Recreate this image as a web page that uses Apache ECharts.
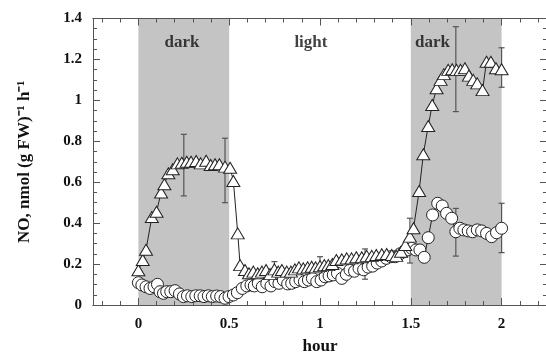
<!DOCTYPE html>
<html>
<head>
<meta charset="utf-8">
<script src="https://cdn.jsdelivr.net/npm/echarts@6/dist/echarts.min.js"></script>
<style>
html,body{margin:0;padding:0;background:#fff;}
#chart{width:546px;height:355px;}
</style>
</head>
<body>
<div id="chart"></div>
<script>
// ---- data ----
var triX = [0.0,0.024,0.042,0.074,0.10,0.125,0.143,0.165,0.189,0.215,0.239,0.266,0.29,0.318,0.343,0.373,0.398,0.422,0.446,0.477,0.505,0.523,0.547,0.56,0.587,0.609,0.633,0.657,0.68,0.703,0.725,0.749,0.77,0.79,0.817,0.84,0.862,0.884,0.908,0.932,0.954,0.976,1.0,1.024,1.046,1.068,1.09,1.12,1.147,1.174,1.20,1.23,1.257,1.285,1.31,1.34,1.367,1.395,1.42,1.446,1.47,1.495,1.515,1.546,1.569,1.596,1.618,1.642,1.664,1.682,1.706,1.728,1.752,1.774,1.798,1.82,1.844,1.866,1.895,1.917,1.941,1.969,2.0];
var triY = [0.17,0.22,0.27,0.43,0.456,0.55,0.59,0.644,0.663,0.692,0.695,0.70,0.70,0.704,0.692,0.705,0.684,0.688,0.688,0.676,0.671,0.606,0.35,0.195,0.171,0.155,0.163,0.155,0.163,0.171,0.151,0.174,0.163,0.171,0.163,0.163,0.174,0.184,0.179,0.184,0.187,0.184,0.19,0.195,0.195,0.20,0.22,0.223,0.228,0.228,0.233,0.233,0.24,0.24,0.244,0.248,0.249,0.244,0.24,0.26,0.293,0.334,0.375,0.557,0.737,0.875,0.977,1.059,1.10,1.128,1.149,1.152,1.149,1.149,1.157,1.121,1.10,1.083,1.05,1.189,1.189,1.157,1.152];

var cirX = [0.0,0.019,0.042,0.064,0.086,0.105,0.119,0.138,0.156,0.178,0.202,0.226,0.248,0.27,0.294,0.316,0.34,0.361,0.385,0.407,0.431,0.453,0.477,0.499,0.523,0.545,0.572,0.597,0.62,0.638,0.66,0.682,0.707,0.73,0.752,0.774,0.798,0.822,0.844,0.866,0.89,0.914,0.936,0.958,0.982,1.006,1.028,1.05,1.073,1.096,1.12,1.145,1.165,1.19,1.215,1.24,1.265,1.29,1.315,1.34,1.365,1.39,1.415,1.44,1.462,1.484,1.505,1.528,1.55,1.574,1.596,1.62,1.648,1.673,1.697,1.725,1.748,1.77,1.792,1.816,1.84,1.866,1.89,1.917,1.945,1.972,2.0];
var cirY = [0.109,0.098,0.089,0.081,0.089,0.101,0.065,0.057,0.065,0.065,0.07,0.054,0.041,0.045,0.041,0.045,0.045,0.041,0.045,0.041,0.044,0.041,0.033,0.041,0.049,0.06,0.081,0.093,0.098,0.093,0.106,0.089,0.106,0.093,0.114,0.106,0.122,0.103,0.106,0.114,0.122,0.114,0.122,0.13,0.114,0.122,0.138,0.142,0.147,0.155,0.13,0.15,0.171,0.165,0.179,0.172,0.185,0.19,0.205,0.215,0.228,0.236,0.236,0.25,0.26,0.269,0.277,0.269,0.269,0.233,0.329,0.44,0.497,0.484,0.448,0.424,0.358,0.375,0.367,0.362,0.358,0.367,0.362,0.35,0.334,0.353,0.375];

// error bars: x, low, high
var errX    = [0.25, 0.477, 0.749, 1.0,   1.248, 1.495, 1.748, 2.0,   1.748, 2.0];
var errLow  = [0.533,0.50,  0.134, 0.145, 0.126, 0.205, 0.945, 1.064, 0.239, 0.256];
var errHigh = [0.834,0.815, 0.212, 0.236, 0.274, 0.424, 1.36,  1.257, 0.472, 0.497];

// shaded (dark) periods
var darkStart = [0, 1.5];
var darkEnd   = [0.5, 2.0];

// period labels
var periodText = ['dark', 'light', 'dark'];
var periodX    = [0.24, 0.95, 1.62];
var periodY    = [1.28, 1.28, 1.28];

// axis ticks
var xMajor = [0, 0.5, 1, 1.5, 2];
var xMinor = [-0.2,-0.1,0.1,0.2,0.3,0.4,0.6,0.7,0.8,0.9,1.1,1.2,1.3,1.4,1.6,1.7,1.8,1.9,2.1,2.2];
var xMin = -0.25, xMax = 2.25;
var yMin = 0, yMax = 1.4, yStep = 0.2;

// ---- chart ----
var zip = function(a, b){ return a.map(function(v,i){ return [v, b[i]]; }); };
var serif = '"Liberation Serif", "Times New Roman", serif';
var axisColor = '#555';

var gridRect = {left: 93, top: 18.5, width: 454, height: 286.5, outerBoundsMode: 'none', containLabel: false};

function xAx(gridIndex, pos, ticks, len, showLabel) {
  return {
    type: 'value', gridIndex: gridIndex, position: pos, min: xMin, max: xMax, z: 10,
    axisLine: {show: true, onZero: false, lineStyle: {color: axisColor, width: 1}},
    axisTick: {show: true, inside: true, length: len, customValues: ticks, lineStyle: {color: axisColor}},
    axisLabel: {show: showLabel, customValues: xMajor, margin: 12, color: '#111',
      fontFamily: serif, fontWeight: 'bold', fontSize: 15},
    splitLine: {show: false},
    name: showLabel ? 'hour' : '', nameLocation: 'middle', nameGap: 33,
    nameTextStyle: {fontFamily: serif, fontWeight: 'bold', fontSize: 17, color: '#111'}
  };
}
function yAx(pos, showLabel) {
  return {
    type: 'value', gridIndex: 0, position: pos, min: yMin, max: yMax, interval: yStep, z: 10,
    axisLine: {show: true, onZero: false, lineStyle: {color: axisColor, width: 1}},
    axisTick: {show: true, inside: true, length: 7, lineStyle: {color: axisColor}},
    minorTick: {show: true, splitNumber: 4, length: 4, lineStyle: {color: axisColor}},
    axisLabel: {show: showLabel, margin: 11, color: '#111',
      fontFamily: serif, fontWeight: 'bold', fontSize: 15},
    splitLine: {show: false},
    name: showLabel ? 'NO, nmol (g FW)\u207B\u00B9 h\u207B\u00B9' : '',
    nameLocation: 'middle', nameGap: 60, nameRotate: 90,
    nameTextStyle: {fontFamily: serif, fontWeight: 'bold', fontSize: 17, color: '#111'}
  };
}

var option = {
  animation: false,
  backgroundColor: '#fff',
  grid: [
    Object.assign({}, gridRect),
    Object.assign({}, gridRect)
  ],
  xAxis: [
    xAx(0, 'bottom', xMajor, 7, true),
    xAx(0, 'top', xMajor, 7, false),
    xAx(1, 'bottom', xMinor, 4, false),
    xAx(1, 'top', xMinor, 4, false)
  ],
  yAxis: [
    yAx('left', true),
    yAx('right', false),
    {type: 'value', gridIndex: 1, min: yMin, max: yMax, show: false}
  ],
  series: [
    {
      type: 'custom', xAxisIndex: 0, yAxisIndex: 0, z: 1,
      data: darkStart.map(function(s, i){ return [s, darkEnd[i]]; }),
      renderItem: function(params, api) {
        var p0 = api.coord([api.value(0), yMax]);
        var p1 = api.coord([api.value(1), yMin]);
        return {type: 'rect', shape: {x: p0[0], y: p0[1], width: p1[0]-p0[0], height: p1[1]-p0[1]},
          style: {fill: '#c4c4c4'}};
      },
      silent: true
    },
    {
      type: 'custom', xAxisIndex: 0, yAxisIndex: 0, z: 2,
      data: errX.map(function(x, i){ return [x, errLow[i], errHigh[i]]; }),
      renderItem: function(params, api) {
        var lo = api.coord([api.value(0), api.value(1)]);
        var hi = api.coord([api.value(0), api.value(2)]);
        var c = 3;
        var st = {stroke: '#555', lineWidth: 1.2};
        return {type: 'group', children: [
          {type: 'line', shape: {x1: lo[0], y1: lo[1], x2: hi[0], y2: hi[1]}, style: st},
          {type: 'line', shape: {x1: lo[0]-c, y1: lo[1], x2: lo[0]+c, y2: lo[1]}, style: st},
          {type: 'line', shape: {x1: hi[0]-c, y1: hi[1], x2: hi[0]+c, y2: hi[1]}, style: st}
        ]};
      },
      silent: true
    },
    {
      type: 'line', xAxisIndex: 0, yAxisIndex: 0, z: 3,
      data: zip(cirX, cirY),
      symbol: 'circle', symbolSize: 12, showAllSymbol: true,
      lineStyle: {color: '#222', width: 1},
      itemStyle: {color: '#fff', borderColor: '#222', borderWidth: 1}
    },
    {
      type: 'line', xAxisIndex: 0, yAxisIndex: 0, z: 4,
      data: zip(triX, triY),
      symbol: 'triangle', symbolSize: [13, 11], showAllSymbol: true,
      lineStyle: {color: '#222', width: 1},
      itemStyle: {color: '#fff', borderColor: '#222', borderWidth: 1}
    },
    {
      type: 'scatter', xAxisIndex: 0, yAxisIndex: 0, z: 5,
      symbolSize: 0,
      data: periodText.map(function(t, i){ return {name: t, value: [periodX[i], periodY[i]]}; }),
      label: {show: true, position: 'inside', formatter: '{b}', color: '#111',
        fontFamily: serif, fontWeight: 'bold', fontSize: 17},
      silent: true
    }
  ]
};

var chart = echarts.init(document.getElementById('chart'), null, {renderer: 'canvas'});
chart.setOption(option);
</script>
</body>
</html>
